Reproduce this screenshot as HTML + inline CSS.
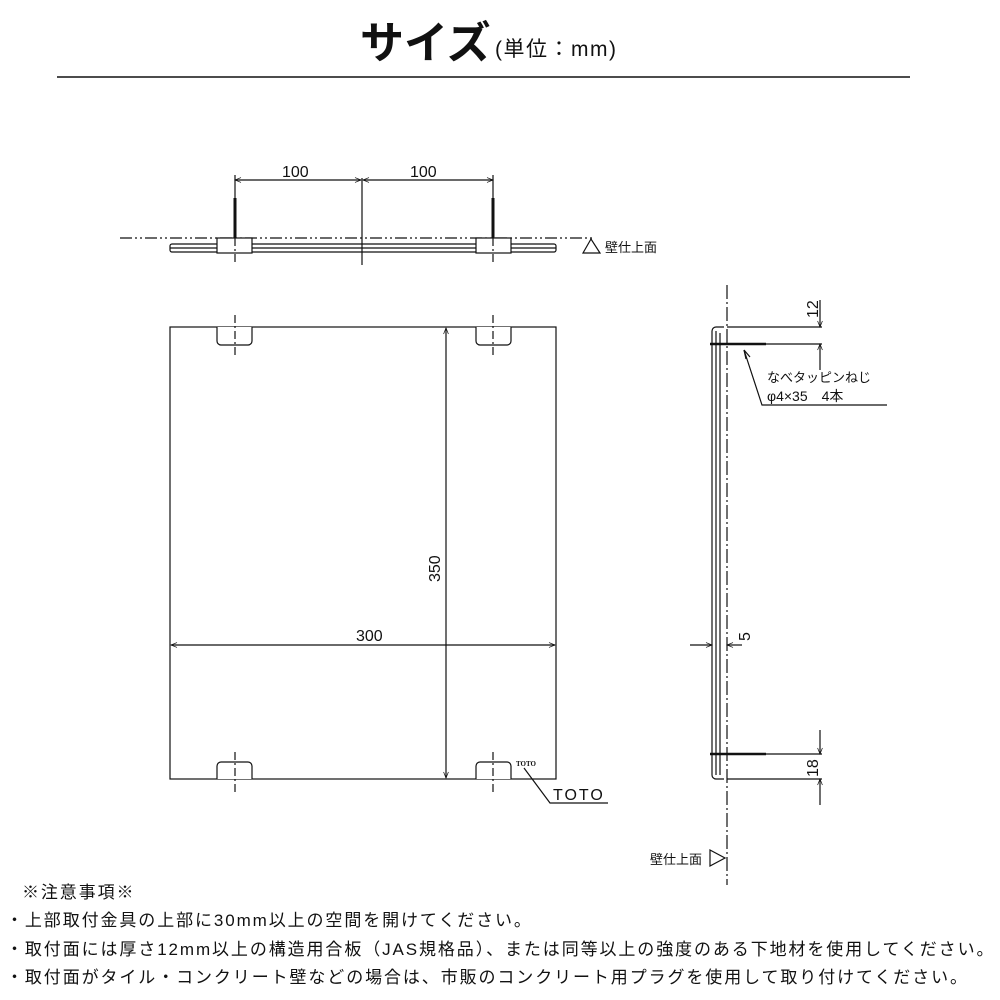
<!DOCTYPE html>
<html><head><meta charset="utf-8"><style>
body{margin:0;background:#fff;width:1000px;height:1000px;overflow:hidden;font-family:"Liberation Sans","Noto Sans CJK JP",sans-serif}
svg{position:absolute;left:0;top:0}
.n{position:absolute;font-size:17px;color:#111;white-space:nowrap;letter-spacing:1.9px}
</style></head><body>
<svg width="1000" height="1000" viewBox="0 0 1000 1000" font-family="Liberation Sans, Noto Sans CJK JP, sans-serif">
<defs><marker id="a" viewBox="0 0 10 10" refX="10" refY="5" markerWidth="10" markerHeight="6" orient="auto-start-reverse" markerUnits="userSpaceOnUse"><path d="M0,1 L10,5 L0,9" fill="none" stroke="#111" stroke-width="1.2"/></marker></defs>
<text x="360" y="58" font-size="44" font-weight="bold" fill="#111">サイズ</text>
<text x="495" y="56" font-size="21" fill="#111" letter-spacing="1.5">(単位：mm)</text>
<line x1="57" y1="77" x2="910" y2="77" stroke="#111" stroke-width="1.5"/>
<g stroke="#111" fill="none" stroke-width="1.2">
<line x1="120" y1="238" x2="595" y2="238" stroke-dasharray="12,3,2,3,2,3"/>
<rect x="170" y="244" width="386" height="8" rx="2"/>
<line x1="170" y1="248" x2="556" y2="248"/>
<rect x="217" y="238" width="35" height="15" fill="#fff"/>
<rect x="476" y="238" width="35" height="15" fill="#fff"/>
<line x1="235" y1="198" x2="235" y2="238" stroke-width="3"/>
<line x1="493" y1="198" x2="493" y2="238" stroke-width="3"/>
<line x1="235" y1="175" x2="235" y2="198"/><line x1="493" y1="175" x2="493" y2="198"/>
<line x1="235" y1="238" x2="235" y2="265" stroke-dasharray="8,3,2,3"/><line x1="493" y1="238" x2="493" y2="265" stroke-dasharray="8,3,2,3"/>
<line x1="362" y1="178" x2="362" y2="265"/>
<line x1="235" y1="180" x2="361" y2="180" marker-start="url(#a)" marker-end="url(#a)"/>
<line x1="363" y1="180" x2="493" y2="180" marker-start="url(#a)" marker-end="url(#a)"/>
<path d="M583,253 L591,239 L600,253 Z"/>
<rect x="170" y="327" width="386" height="452"/>
<path d="M217,327 V341 a4,4 0 0 0 4,4 H248 a4,4 0 0 0 4,-4 V327" fill="#fff"/>
<path d="M476,327 V341 a4,4 0 0 0 4,4 H507 a4,4 0 0 0 4,-4 V327" fill="#fff"/>
<path d="M217,779 V766 a4,4 0 0 1 4,-4 H248 a4,4 0 0 1 4,4 V779" fill="#fff"/>
<path d="M476,779 V766 a4,4 0 0 1 4,-4 H507 a4,4 0 0 1 4,4 V779" fill="#fff"/>
<line x1="235" y1="315" x2="235" y2="357" stroke-dasharray="8,3,2,3"/><line x1="493" y1="315" x2="493" y2="357" stroke-dasharray="8,3,2,3"/>
<line x1="235" y1="752" x2="235" y2="792" stroke-dasharray="8,3,2,3"/><line x1="493" y1="752" x2="493" y2="792" stroke-dasharray="8,3,2,3"/>
<line x1="446" y1="328" x2="446" y2="778" marker-start="url(#a)" marker-end="url(#a)"/>
<line x1="171" y1="645" x2="555" y2="645" marker-start="url(#a)" marker-end="url(#a)"/>
<polyline points="524,768 550,803 608,803"/>
<line x1="727" y1="285" x2="727" y2="885" stroke-dasharray="14,3,2,3"/>
<path d="M724,327 H716 a4,4 0 0 0 -4,4 V775 a4,4 0 0 0 4,4 H724"/>
<line x1="716" y1="331" x2="716" y2="775"/>
<line x1="720" y1="333" x2="720" y2="775"/>
<line x1="710" y1="344" x2="766" y2="344" stroke-width="2.5"/>
<line x1="710" y1="754" x2="766" y2="754" stroke-width="2.5"/>
<line x1="727" y1="327" x2="822" y2="327"/><line x1="766" y1="344" x2="822" y2="344"/>
<line x1="820" y1="300" x2="820" y2="327" marker-end="url(#a)"/>
<line x1="820" y1="370" x2="820" y2="344" marker-end="url(#a)"/>
<polyline points="744,350 762,405 887,405" />
<path d="M744,350 l2,9 M744,350 l6,7"/>
<line x1="690" y1="645" x2="712" y2="645" marker-end="url(#a)"/>
<line x1="742" y1="645" x2="727" y2="645" marker-end="url(#a)"/>
<line x1="727" y1="779" x2="822" y2="779"/><line x1="766" y1="754" x2="822" y2="754"/>
<line x1="820" y1="730" x2="820" y2="754" marker-end="url(#a)"/>
<line x1="820" y1="805" x2="820" y2="779" marker-end="url(#a)"/>
<path d="M710,850 L725,858 L710,866 Z"/>
</g>
<g fill="#111" font-size="16">
<text x="282" y="177">100</text><text x="410" y="177">100</text>
<text x="605" y="252" font-size="13">壁仕上面</text>
<text x="356" y="641">300</text>
<text transform="translate(440,582) rotate(-90)">350</text>
<text x="516" y="766" font-size="7" font-weight="bold" font-family="Liberation Serif,serif">TOTO</text>
<text x="553" y="800" font-size="16" letter-spacing="2">TOTO</text>
<text transform="translate(818,318) rotate(-90)" font-size="16">12</text>
<text transform="translate(750,641) rotate(-90)" font-size="16">5</text>
<text transform="translate(818,777) rotate(-90)" font-size="16">18</text>
<text x="767" y="382" font-size="13">なべタッピンねじ</text>
<text x="767" y="401" font-size="14">φ4×35　4本</text>
<text x="650" y="864" font-size="13">壁仕上面</text>
</g>
</svg>
<div class="n" style="left:22px;top:878px">※注意事項※</div>
<div class="n" style="left:6px;top:906px">・上部取付金具の上部に30mm以上の空間を開けてください。</div>
<div class="n" style="left:6px;top:935px">・取付面には厚さ12mm以上の構造用合板（JAS規格品）、または同等以上の強度のある下地材を使用してください。</div>
<div class="n" style="left:6px;top:963px">・取付面がタイル・コンクリート壁などの場合は、市販のコンクリート用プラグを使用して取り付けてください。</div>
</body></html>
